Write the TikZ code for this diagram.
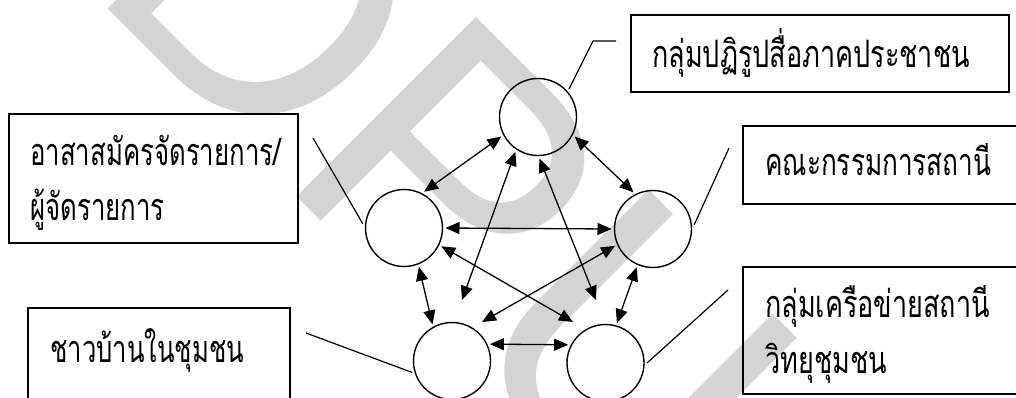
\documentclass[tikz,border=0pt]{standalone}
\usepackage{fontspec}
\usepackage{graphicx}
\newfontfamily\thai[Script=Thai]{Loma}
\newfontfamily\wmfont{Liberation Sans}
\usetikzlibrary{arrows.meta}
\definecolor{wmgray}{RGB}{212,212,212}
\newcommand{\thtext}[2]{\scalebox{#1}[1.4]{\thai\fontsize{27}{30}\selectfont #2}}
\tikzset{
  circ/.style={circle, draw, line width=1.4pt, minimum size=77pt, inner sep=0pt, outer sep=3pt},
  box/.style={draw, line width=1.6pt, inner sep=0pt},
  lbl/.style={anchor=base west, inner sep=0pt},
  link/.style={line width=1.3pt, {Triangle[length=14pt,width=12pt]}-{Triangle[length=14pt,width=12pt]}},
  lead/.style={line width=1.2pt},
}
\begin{document}
\begin{tikzpicture}[x=1pt,y=-1pt]
\useasboundingbox (0,0) rectangle (1016,397);
\begin{scope}
\clip (0,0) rectangle (1016,397);
% watermark
\node[anchor=base west, inner sep=0pt, rotate=-45, text=wmgray,
      font=\wmfont\fontsize{369}{369}\selectfont] (wm) at (86.7,-12.9) {DPU};
% boxes
\node[box, minimum width=378pt, minimum height=77pt] (btop) at (820,53.5) {};
\node[box, minimum width=289pt, minimum height=129pt] (bleft) at (153.5,178.5) {};
\node[box, minimum width=287pt, minimum height=78pt] (bright) at (886.5,165) {};
\node[box, minimum width=287pt, minimum height=127pt] (bbr) at (886.5,330.5) {};
\node[box, minimum width=262pt, minimum height=112pt] (bbl) at (159,364) {};
% labels
\node[lbl] (ttop) at (652,67) {\thtext{1}{กลุ่มปฏิรูปสื่อภาคประชาชน}};
\node[lbl] (tleft1) at (30,165) {\thtext{0.955}{อาสาสมัครจัดรายการ/}};
\node[lbl] (tleft2) at (30,220) {\thtext{0.955}{ผู้จัดรายการ}};
\node[lbl] (tright) at (765,175) {\thtext{0.97}{คณะกรรมการสถานี}};
\node[lbl] (tbr1) at (765,317) {\thtext{1}{กลุ่มเครือข่ายสถานี}};
\node[lbl] (tbr2) at (765,373) {\thtext{1}{วิทยุชุมชน}};
\node[lbl] (tbl) at (50,362) {\thtext{0.95}{ชาวบ้านในชุมชน}};
% circles
\node[circ] (ctop) at (538,117) {};
\node[circ] (cleft) at (404,228) {};
\node[circ] (cright) at (653,229) {};
\node[circ] (cbl) at (452,361) {};
\node[circ] (cbr) at (605.5,363) {};
% free ends
\coordinate (a3) at (462,300);
\coordinate (a4) at (596,300);
\coordinate (a6) at (573,322);
\coordinate (a7) at (482,322);
% arrows
\draw[link] (ctop.208) -- (cleft.61);
\draw[link] (ctop.332) -- (cright.118);
\draw[link] (ctop.237) -- (a3);
\draw[link] (ctop.272) -- (a4);
\draw[link] (cleft.0) -- (cright.180);
\draw[link] (cleft.334) -- (a6);
\draw[link] (cright.204) -- (a7);
\draw[link] (cleft.291) -- (cbl.118);
\draw[link] (cright.247) -- (cbr.74);
\draw[link] (cbl.24) -- (cbr.154);
% leaders
\coordinate (k1) at (593,41);
\coordinate (k2) at (616,41);
\coordinate (k3) at (313,138);
\coordinate (k4) at (729,148);
\coordinate (k5) at (306,333);
\coordinate (k6) at (728,290);
\draw[lead] (ctop.42) -- (k1) -- (k2);
\draw[lead] (cleft.174) -- (k3);
\draw[lead] (cright.6) -- (k4);
\draw[lead] (cbl.196) -- (k5);
\draw[lead] (cbr.0) -- (k6);
\end{scope}
\end{tikzpicture}
\end{document}
